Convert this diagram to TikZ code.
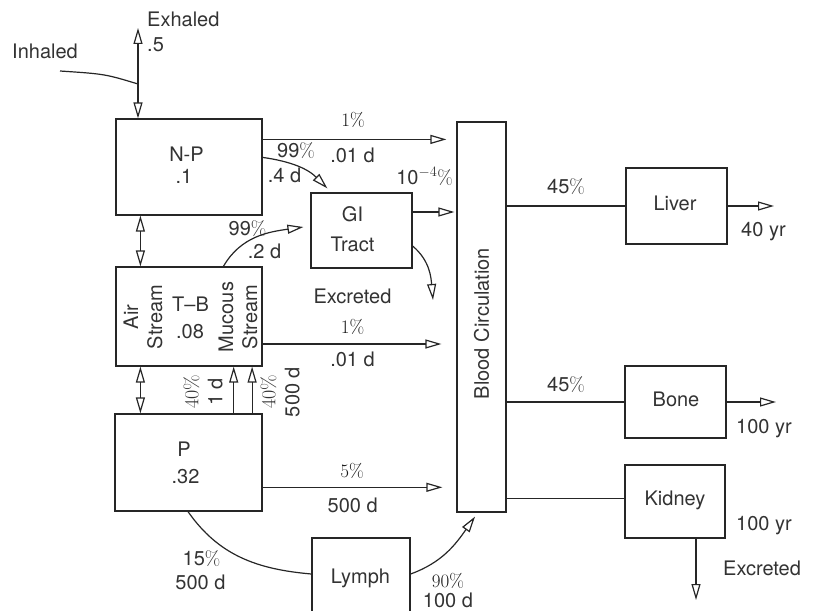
\documentclass[tikz,border=0pt]{standalone}
\usepackage{fontspec}
\newfontfamily\hv{TeX Gyre Heros}
\usetikzlibrary{arrows.meta,calc}
\newcommand{\pc}{{\rmfamily\%}}
\tikzset{
  ln/.style={line width=1.2pt, draw=black!85},
  tip/.tip={Triangle[open, length=16pt, width=9pt, line width=1.2pt]},
  arr/.style={ln, -tip},
  darr/.style={ln, tip-tip},
  box/.style={draw=black!85, line width=1.2pt, inner sep=0pt},
  txt/.style={font=\hv\fontsize{20}{24}\selectfont, text=black!80, inner sep=0pt},
  rtxt/.style={font=\rmfamily\fontsize{19}{23}\selectfont, text=black!90, inner sep=0pt},
}
\begin{document}
\begin{tikzpicture}[x=1pt, y=-1pt]
\useasboundingbox (0,0) rectangle (818,610);
\clip (0,0) rectangle (818,610);
% boxes
\node[box, minimum width=146pt, minimum height=96pt] (np) at (189,167) {};
\node[box, minimum width=146pt, minimum height=99pt] (tb) at (189,316.5) {};
\node[box, minimum width=147pt, minimum height=97pt] (p) at (188.5,462.5) {};
\node[box, minimum width=101pt, minimum height=75pt] (gi) at (361.5,230.5) {};
\node[box, minimum width=98pt, minimum height=78pt] (ly) at (361,577) {};
\node[box, minimum width=49pt, minimum height=390pt] (bl) at (481.5,317) {};
\node[box, minimum width=101pt, minimum height=76pt] (lv) at (676.5,206) {};
\node[box, minimum width=101pt, minimum height=72pt] (bn) at (675.5,402) {};
\node[box, minimum width=100pt, minimum height=73pt] (kd) at (675,501.5) {};
% box texts
\node[txt, anchor=base] (tnp1) at (186.5,161) {N-P};
\node[txt, anchor=base] (tnp2) at (184,183.5) {.1};
\node[txt, anchor=base] (ttb1) at (190.5,311.7) {T–B};
\node[txt, anchor=base] (ttb2) at (190,338.3) {.08};
\node[txt, rotate=90, align=center] (tair) at (143,317) {Air\\Stream};
\node[txt, rotate=90, align=center] (tmuc) at (238,317) {Mucous\\Stream};
\node[txt, anchor=base] (tp1) at (184,456.7) {P};
\node[txt, anchor=base] (tp2) at (185.5,483.3) {.32};
\node[txt, anchor=base] (tgi1) at (352.5,221.7) {GI};
\node[txt, anchor=base] (tgi2) at (352.5,251.7) {Tract};
\node[txt, anchor=base] (tly) at (360.5,583.3) {Lymph};
\node[txt, rotate=90] (tbl) at (481.5,323.5) {Blood Circulation};
\node[txt, anchor=base] (tlv) at (675,210.5) {Liver};
\node[txt, anchor=base] (tbn) at (676,406.7) {Bone};
\node[txt, anchor=base] (tkd) at (675,505.7) {Kidney};
% labels
\node[txt, anchor=base west] (lex) at (147,26.7) {Exhaled};
\node[txt, anchor=base west] (l05) at (147,51.7) {.5};
\node[txt, anchor=base west] (lin) at (12,58.3) {Inhaled};
\node[rtxt, anchor=base] (l1a) at (353,126.7) {1\%};
\node[txt, anchor=base] (l01a) at (352.5,162) {.01 d};
\node[txt, anchor=base] (l99a) at (296,157.3) {99\pc};
\node[txt, anchor=base] (l4d) at (284.5,182.3) {.4 d};
\node[txt, anchor=base east] (l104) at (453,184) {10$^{-4}$\pc};
\node[txt, anchor=base] (l99b) at (247.5,235) {99\pc};
\node[txt, anchor=base] (l2d) at (264.5,258.3) {.2 d};
\node[txt, anchor=base] (lexg) at (352.5,303.3) {Excreted};
\node[rtxt, anchor=base] (l1b) at (352.5,333.3) {1\%};
\node[txt, anchor=base] (l01b) at (352.5,366.7) {.01 d};
\node[txt, rotate=90, align=center] (l40a) at (203,392) {{\rmfamily 40\%}\\1 d};
\node[txt, rotate=90, align=center] (l40b) at (280,392) {{\rmfamily 40\%}\\500 d};
\node[rtxt, anchor=base] (l5) at (352,477.3) {5\%};
\node[txt, anchor=base] (l500a) at (352.7,512.3) {500 d};
\node[txt, anchor=base] (l15) at (201.5,565.7) {15\pc};
\node[txt, anchor=base] (l500b) at (200.5,589) {500 d};
\node[rtxt, anchor=base] (l90) at (448,587) {90\%};
\node[txt, anchor=base] (l100d) at (448,607) {100 d};
\node[txt, anchor=base] (l45a) at (566,193.3) {45\pc};
\node[txt, anchor=base] (l45b) at (566,391.7) {45\pc};
\node[txt, anchor=base west] (l40y) at (741,236) {40 yr};
\node[txt, anchor=base west] (l100a) at (736,433) {100 yr};
\node[txt, anchor=base west] (l100b) at (736,530) {100 yr};
\node[txt, anchor=base west] (lexk) at (723,575) {Excreted};
% connectors
\coordinate (j) at (138,84);
\coordinate (ex) at (138,28);
\coordinate (in) at (60,71);
\draw[arr] (j) -- (ex);
\draw[ln] (in) .. controls (105,74) .. (j);
\draw[arr] (j) -- (j |- np.north);
\draw[darr] ([xshift=25pt]np.south west) -- ([xshift=25pt]tb.north west);
\draw[darr] ([xshift=25pt]tb.south west) -- ([xshift=26pt]p.north west);
\coordinate (a1) at ([yshift=-21pt]np.north east);
\draw[arr, shorten >=10pt] (a1) -- (a1 -| bl.west);
\draw[arr] ([yshift=-39pt]np.north east) to[out=-8, in=135] ([xshift=17pt,yshift=4pt]gi.north west);
\draw[arr] ([xshift=108pt]tb.north west) to[out=60, in=188] ([xshift=-7pt,yshift=3.5pt]gi.west);
\coordinate (a2) at ([yshift=18.5pt]gi.east);
\draw[arr, shorten >=2pt] (a2) -- (a2 -| bl.west);
\coordinate (gx) at (433,300);
\draw[arr] ([yshift=-15.5pt]gi.east) to[out=-40, in=95] (gx);
\coordinate (a3) at ([yshift=-27.5pt]tb.east);
\draw[arr, shorten >=15pt] (a3) -- (a3 -| bl.west);
\coordinate (a4) at ([xshift=119.3pt]p.north west);
\coordinate (a5) at ([xshift=137.7pt]p.north west);
\draw[arr] (a4) -- (a4 |- tb.south);
\draw[arr] (a5) -- (a5 |- tb.south);
\coordinate (a6) at ([yshift=-24.8pt]p.east);
\draw[arr, shorten >=14pt] (a6) -- (a6 -| bl.west);
\draw[ln] ([xshift=-0.5pt]p.south) to[out=-55, in=175] ([yshift=3pt]ly.west);
\draw[arr] ([yshift=3pt]ly.east) to[out=20, in=-125] ([xshift=-6.5pt,yshift=-4pt]bl.south);
\draw[ln] (bl.east |- lv.west) -- (lv.west);
\draw[ln] (bl.east |- bn.west) -- (bn.west);
\coordinate (a7) at ([yshift=3pt]kd.west);
\draw[ln] (bl.east |- a7) -- (a7);
\coordinate (o1) at (774,206);
\draw[arr] (lv.east) -- (o1);
\coordinate (o2) at (776,402);
\draw[arr] (bn.east) -- (o2);
\coordinate (o3) at (696,600);
\draw[arr] (kd.south -| o3) -- (o3);
\end{tikzpicture}
\end{document}
